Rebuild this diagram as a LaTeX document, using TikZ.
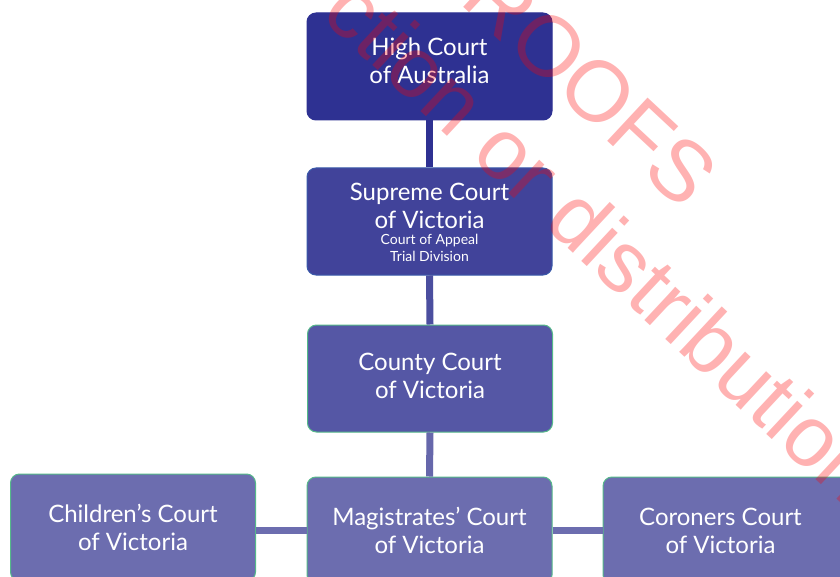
\documentclass[tikz,border=0pt]{standalone}
\usepackage{fontspec}
\setmainfont{Lato}
\newfontfamily\wmfont{Liberation Sans}
\definecolor{cHigh}{HTML}{2E3192}
\definecolor{cSup}{HTML}{41439A}
\definecolor{cSupB}{HTML}{3A5AAA}
\definecolor{cCounty}{HTML}{5557A5}
\definecolor{cLow}{HTML}{6C6DAF}
\definecolor{cGreen}{HTML}{55B98A}
\definecolor{cLinkA}{HTML}{2E3192}
\definecolor{cLinkB}{HTML}{4B4E9F}
\definecolor{cLinkC}{HTML}{6667AB}
\begin{document}
\begin{tikzpicture}[x=1pt,y=-1pt,
  courtbox/.style={rounded corners=9pt, minimum width=245pt, minimum height=107pt, inner sep=0pt, line width=1pt},
  lbl/.style={text=white, align=center, font=\fontsize{24}{28}\selectfont, inner sep=0pt},
  smalllbl/.style={text=white, align=center, font=\fontsize{14}{17}\selectfont, inner sep=0pt},
  link/.style={line width=7pt},
  wm/.style={text=red, text opacity=0.3, font=\wmfont\fontsize{86}{86}\selectfont, inner sep=0pt, rotate=-43}
]
\clip (0,0) rectangle (840,577);
\fill[white] (0,0) rectangle (840,577);

\node[courtbox, fill=cHigh, draw=cHigh,
  label={[lbl, yshift=5.5pt]center:{High Court\\of Australia}}] (high) at (429.5,66.5) {};
\node[courtbox, fill=cSup, draw=cSupB,
  label={[lbl, yshift=16pt]center:{Supreme Court\\of Victoria}},
  label={[smalllbl, yshift=-26pt]center:{Court of Appeal\\Trial Division}}] (supreme) at (429.5,221.5) {};
\node[courtbox, fill=cCounty, draw=cGreen,
  label={[lbl, yshift=2.5pt]center:{County Court\\of Victoria}}] (county) at (430,378.5) {};
\node[courtbox, fill=cLow, draw=cGreen,
  label={[lbl]center:{Children’s Court\\of Victoria}}] (children) at (133,527.5) {};
\node[courtbox, fill=cLow, draw=cGreen,
  label={[lbl]center:{Magistrates’ Court\\of Victoria}}] (mag) at (429.5,530.5) {};
\node[courtbox, fill=cLow, draw=cGreen,
  label={[lbl, xshift=-5pt]center:{Coroners Court\\of Victoria}}] (coroners) at (725.5,530.5) {};

\draw[link, draw=cLinkA] (high.south) -- (supreme.north);
\draw[link, draw=cLinkB] (supreme.south) -- (county.north);
\draw[link, draw=cLinkC] (county.south) -- (mag.north);
\draw[link, draw=cLow] (mag.west) -- (mag.west -| children.east);
\draw[link, draw=cLow] (mag.east) -- (mag.east -| coroners.west);

\node[wm] (wmA) at (570,66) {PROOFS};
\node[wm] (wmB) at (604,240) {ction or distribution};
\end{tikzpicture}
\end{document}
